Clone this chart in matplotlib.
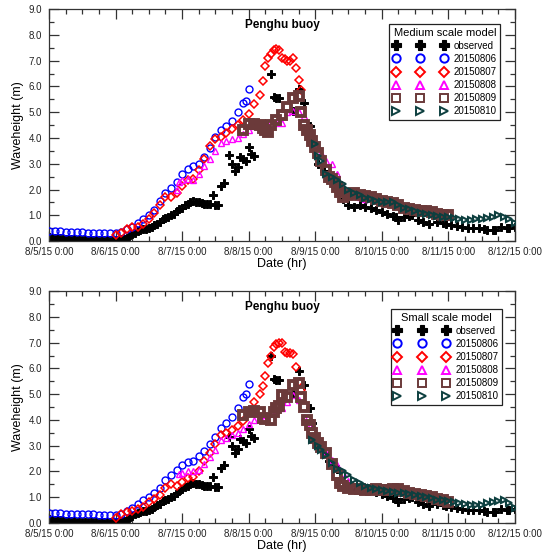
import numpy as np
import matplotlib
matplotlib.use('Agg')
import matplotlib.pyplot as plt
from matplotlib.ticker import MultipleLocator, FormatStrFormatter

plt.rcParams['font.family'] = ['Liberation Sans', 'DejaVu Sans']

# hours since 8/5/15 0:00
day_ticks = [0, 24, 48, 72, 96, 120, 144, 168]
day_labels = ['8/5/15 0:00', '8/6/15 0:00', '8/7/15 0:00', '8/8/15 0:00',
              '8/9/15 0:00', '8/10/15 0:00', '8/11/15 0:00', '8/12/15 0:00']

# observed buoy data (same in both panels)
obs_h = [0, 1, 2, 3, 4, 5, 6, 7, 8, 9, 10, 11, 12, 13, 14, 15, 16, 17, 18, 19,
         20, 21, 22, 23, 24, 25, 26, 27, 28, 29, 30, 31, 32, 33, 34, 35, 36, 37, 38, 39,
         40, 41, 42, 43, 44, 45, 46, 47, 48, 49, 50, 51, 52, 53, 54, 55, 56, 57, 58, 59,
         60, 61, 62, 63, 65, 66, 67, 68, 69, 70, 71, 72, 73, 74, 80, 81, 82, 83, 88, 90,
         92, 94, 95, 97, 99, 101, 103, 104, 106, 108, 110, 112, 114, 116, 118, 120, 122, 124, 125, 126,
         128, 130, 131, 133, 135, 137, 140, 142, 143, 145, 147, 149, 151, 153, 155, 157, 158, 160, 161, 163,
         165, 166, 168]
obs_v = [0.15, 0.13, 0.12, 0.11, 0.10, 0.09, 0.08, 0.07, 0.06, 0.06, 0.05, 0.05, 0.05, 0.04, 0.04, 0.03, 0.03, 0.03, 0.03, 0.04,
         0.04, 0.05, 0.05, 0.05, 0.05, 0.05, 0.06, 0.08, 0.12, 0.20, 0.28, 0.33, 0.38, 0.42, 0.45, 0.48, 0.52, 0.56, 0.62, 0.68,
         0.75, 0.85, 0.90, 0.93, 1.00, 1.06, 1.15, 1.25, 1.30, 1.38, 1.45, 1.50, 1.55, 1.52, 1.50, 1.47, 1.45, 1.44, 1.42, 1.77,
         1.38, 1.40, 2.15, 2.24, 3.35, 3.00, 2.73, 2.86, 3.25, 3.18, 3.10, 3.66, 3.38, 3.30, 6.50, 5.60, 5.55, 5.54, 5.05, 5.90,
         5.37, 4.47, 3.90, 3.00, 2.70, 2.40, 2.20, 2.10, 1.64, 1.38, 1.31, 1.38, 1.31, 1.28, 1.20, 1.12, 1.06, 0.98, 0.95, 0.80,
         0.93, 0.98, 1.00, 0.80, 0.72, 0.67, 0.73, 0.70, 0.67, 0.62, 0.57, 0.55, 0.50, 0.52, 0.50, 0.45, 0.41, 0.42, 0.41, 0.54,
         0.50, 0.52, 0.54]

# ---- medium scale model ----
med_06_h = [0, 2, 4, 6, 8, 10, 12, 14, 16, 18, 20, 22, 24, 26, 28, 30, 32, 34, 36, 38,
            40, 42, 44, 46, 48, 50, 52, 54, 56, 58, 60, 62, 64, 66, 68, 70, 71, 72]
med_06_v = [0.40, 0.38, 0.37, 0.36, 0.35, 0.35, 0.34, 0.33, 0.33, 0.32, 0.31, 0.30, 0.30, 0.35, 0.45, 0.55, 0.70, 0.85, 1.00, 1.20,
            1.55, 1.85, 2.05, 2.30, 2.60, 2.80, 2.90, 3.00, 3.25, 3.60, 4.05, 4.30, 4.45, 4.65, 5.00, 5.37, 5.44, 5.90]
med_07_h = [24, 26, 28, 30, 32, 34, 36, 38, 40, 42, 44, 46, 48, 50, 52, 54, 56, 58, 60, 62,
            64, 66, 68, 70, 72, 74, 76, 77, 78, 79, 80, 81, 82, 83, 84, 85, 86, 87, 88, 89, 90, 91]
med_07_v = [0.25, 0.30, 0.45, 0.55, 0.55, 0.65, 0.85, 1.10, 1.40, 1.70, 1.70, 1.85, 2.15, 2.35, 2.40, 2.75, 3.20, 3.70, 3.95, 4.05,
            4.20, 4.35, 4.50, 4.70, 4.95, 5.30, 5.65, 6.20, 6.80, 7.10, 7.25, 7.40, 7.47, 7.41, 7.10, 7.06, 7.00, 6.97, 7.10, 6.70, 6.24, 5.86]
med_08_h = [46, 47, 48, 50, 52, 54, 56, 58, 60, 62, 64, 66, 68, 70, 72, 74, 76, 78, 80, 82,
            84, 86, 88, 90, 92, 94, 96, 98, 100, 102, 104, 106, 108, 110, 112, 114]
med_08_v = [2.00, 2.30, 2.35, 2.40, 2.35, 2.60, 2.90, 3.20, 3.50, 3.80, 3.90, 3.95, 4.00, 4.15, 4.30, 4.45, 4.45, 4.50, 4.60, 4.60,
            4.60, 5.00, 5.05, 5.00, 4.85, 4.20, 3.75, 3.40, 3.10, 3.00, 2.60, 2.10, 1.80, 1.75, 1.70, 1.65]
med_09_h = [70, 72, 74, 76, 77, 78, 79, 80, 82, 84, 86, 88, 90, 91, 92, 93, 94, 95, 96, 97,
            98, 100, 101, 102, 103, 104, 105, 106, 108, 110, 112, 114, 116, 118, 120, 122, 124, 126, 128, 130,
            132, 134, 136, 138, 140, 142, 144]
med_09_v = [4.30, 4.54, 4.55, 4.50, 4.40, 4.30, 4.25, 4.50, 4.70, 4.90, 5.20, 5.57, 5.63, 5.00, 4.50, 4.30, 4.10, 3.90, 3.65, 3.40,
            3.10, 2.75, 2.50, 2.40, 2.28, 2.10, 1.90, 1.70, 1.80, 1.85, 1.78, 1.75, 1.70, 1.62, 1.57, 1.52, 1.47, 1.40, 1.30, 1.25,
            1.20, 1.18, 1.16, 1.12, 1.06, 1.02, 1.00]
med_10_h = [96, 97, 98, 100, 102, 104, 106, 108, 110, 112, 114, 116, 118, 120, 122, 124, 126, 128, 130, 132,
            134, 136, 138, 140, 142, 144, 146, 148, 150, 152, 154, 156, 158, 160, 162, 164, 166, 168]
med_10_v = [3.76, 3.30, 3.10, 2.60, 2.50, 2.35, 2.20, 2.00, 1.85, 1.77, 1.68, 1.62, 1.57, 1.53, 1.50, 1.50, 1.40, 1.30, 1.25, 1.15,
            1.10, 1.05, 1.00, 0.98, 0.95, 0.92, 0.88, 0.85, 0.83, 0.82, 0.84, 0.86, 0.90, 0.94, 1.00, 0.95, 0.85, 0.70]

# ---- small scale model ----
sml_06_h = [0, 2, 4, 6, 8, 10, 12, 14, 16, 18, 20, 22, 24, 26, 28, 30, 32, 34, 36, 38,
            40, 42, 44, 46, 48, 50, 52, 54, 56, 58, 60, 62, 64, 66, 68, 70, 71, 72]
sml_06_v = [0.40, 0.38, 0.37, 0.36, 0.35, 0.35, 0.34, 0.33, 0.33, 0.32, 0.31, 0.30, 0.30, 0.35, 0.45, 0.60, 0.75, 0.88, 1.00, 1.15,
            1.35, 1.65, 1.85, 2.05, 2.25, 2.35, 2.40, 2.60, 2.80, 3.05, 3.35, 3.70, 3.90, 4.10, 4.45, 4.90, 5.00, 5.38]
sml_07_h = [24, 26, 28, 30, 32, 34, 36, 38, 40, 42, 44, 46, 48, 50, 52, 54, 56, 58, 60, 62,
            64, 66, 68, 70, 72, 74, 76, 77, 78, 79, 80, 81, 82, 83, 84, 85, 86, 87, 88, 89, 90, 91]
sml_07_v = [0.20, 0.33, 0.42, 0.48, 0.53, 0.62, 0.80, 0.95, 1.10, 1.36, 1.50, 1.43, 1.60, 1.75, 1.80, 2.00, 2.40, 2.70, 3.05, 3.40,
            3.50, 3.62, 3.75, 3.95, 4.30, 4.70, 5.00, 5.30, 5.70, 6.20, 6.50, 6.83, 6.94, 6.97, 7.00, 6.64, 6.60, 6.58, 6.55, 6.04, 5.48, 5.16]
sml_08_h = [47, 48, 50, 52, 54, 56, 58, 60, 62, 64, 66, 68, 70, 72, 74, 76, 78, 80, 82, 84,
            86, 88, 90, 92, 94, 96, 98, 100, 102, 104, 106, 108, 110, 112]
sml_08_v = [1.90, 1.95, 2.00, 2.00, 2.05, 2.30, 2.55, 2.84, 3.23, 3.30, 3.40, 3.50, 3.65, 3.85, 4.00, 4.10, 4.20, 4.30, 4.40, 4.45,
            4.70, 4.97, 4.77, 4.13, 3.75, 3.23, 2.95, 2.70, 2.45, 2.26, 1.94, 1.62, 1.36, 1.43]
sml_09_h = [70, 72, 74, 76, 77, 78, 80, 81, 82, 83, 84, 86, 88, 90, 91, 92, 93, 94, 95, 96,
            97, 98, 100, 102, 104, 105, 106, 108, 110, 112, 114, 116, 118, 120, 122, 124, 126, 128, 130, 132,
            134, 136, 138, 140, 142, 144]
sml_09_v = [4.20, 4.32, 4.35, 4.30, 4.07, 4.05, 4.00, 4.32, 4.45, 4.54, 4.97, 4.90, 5.35, 5.42, 4.90, 4.52, 4.00, 3.80, 3.49, 3.30,
            3.10, 2.95, 2.72, 2.27, 1.88, 1.56, 1.43, 1.36, 1.32, 1.30, 1.27, 1.27, 1.30, 1.28, 1.27, 1.30, 1.33, 1.25, 1.17, 1.12,
            1.08, 1.04, 1.00, 0.93, 0.88, 0.81]
sml_10_h = [95, 97, 98, 100, 102, 104, 106, 108, 110, 112, 114, 116, 118, 120, 122, 124, 126, 128, 130, 132,
            134, 136, 138, 140, 142, 144, 146, 148, 150, 152, 154, 156, 158, 160, 162, 164, 166, 168]
sml_10_v = [3.23, 2.97, 2.85, 2.65, 2.33, 2.10, 2.00, 1.85, 1.68, 1.55, 1.45, 1.36, 1.30, 1.27, 1.24, 1.20, 1.17, 1.15, 1.12, 1.07,
            1.05, 1.02, 0.97, 0.91, 0.88, 0.85, 0.80, 0.76, 0.73, 0.71, 0.71, 0.71, 0.76, 0.80, 0.85, 0.89, 0.76, 0.60]

series_names = ['observed', '20150806', '20150807', '20150808', '20150809', '20150810']
panels = [
    ('Medium scale model', [med_06_h, med_07_h, med_08_h, med_09_h, med_10_h],
     [med_06_v, med_07_v, med_08_v, med_09_v, med_10_v], [0.5665, 0.969, 0.935]),
    ('Small scale model', [sml_06_h, sml_07_h, sml_08_h, sml_09_h, sml_10_h],
     [sml_06_v, sml_07_v, sml_08_v, sml_09_v, sml_10_v], [0.0594, 0.973, 0.922]),
]

# marker styles: (marker, color, size, edge width, legend size)
styles = [
    ('o', '#0000ff', 5.0, 1.0, 6.0),
    ('D', '#ff0000', 3.6, 1.1, 4.6),
    ('^', '#ff00ff', 5.0, 1.0, 6.0),
    ('s', '#6b3a3a', 5.8, 2.8, 6.2),
    ('>', '#0d3f3f', 5.0, 1.5, 5.6),
]

fig = plt.figure(figsize=(5.43, 5.56), dpi=100)

for title, hs, vs, pos in panels:
    ax = fig.add_axes([0.0902, pos[0], 0.858, 0.417])
    ax.plot(obs_h, obs_v, linestyle='none', marker='P', markersize=6.4,
            color='black', markeredgewidth=0.7, label='observed', zorder=2)
    for (mk, col, ms, mew, _), h, v, name in zip(styles, hs, vs, series_names[1:]):
        ax.plot(h, v, linestyle='none', marker=mk, markersize=ms,
                markerfacecolor='none', markeredgecolor=col, markeredgewidth=mew,
                label=name, zorder=3)

    ax.set_xlim(0, 168)
    ax.set_ylim(0, 9)
    ax.set_xticks(day_ticks)
    ax.set_xticklabels(day_labels)
    ax.xaxis.set_minor_locator(MultipleLocator(6))
    ax.yaxis.set_major_locator(MultipleLocator(1))
    ax.yaxis.set_minor_locator(MultipleLocator(0.5))
    ax.yaxis.set_major_formatter(FormatStrFormatter('%.1f'))
    ax.tick_params(which='both', direction='in', top=True, right=True,
                   labelsize=7, width=0.9, colors='#333333', labelcolor='#222222')
    ax.tick_params(axis='x', pad=4)
    ax.tick_params(axis='y', pad=5)
    ax.tick_params(which='major', length=7)
    ax.tick_params(which='minor', length=3.5)
    for sp in ax.spines.values():
        sp.set_linewidth(0.9)
        sp.set_color('#333333')
    ax.set_xlabel('Date (hr)', fontsize=9, labelpad=1)
    ax.set_ylabel('Waveheight (m)', fontsize=9, labelpad=3)
    ax.text(0.5, 0.93, 'Penghu buoy', transform=ax.transAxes, ha='center',
            va='center', fontsize=8.5, fontweight='bold')

    leg = ax.legend(loc='upper right', bbox_to_anchor=(pos[1], pos[2]),
                    title=title, numpoints=3, handlelength=5.6, handletextpad=0.7,
                    fontsize=7, title_fontsize=8, frameon=True, fancybox=False,
                    borderpad=0.35, labelspacing=0.32, borderaxespad=0)
    leg.get_frame().set_edgecolor('#222222')
    leg.get_frame().set_linewidth(0.9)
    leg.get_frame().set_alpha(1)
    hds = leg.legend_handles
    hds[0].set_markersize(7.0)
    hds[0].set_markeredgewidth(0.8)
    for hd, st in zip(hds[1:], styles):
        hd.set_markersize(st[4])
        hd.set_markeredgewidth(1.4)

fig.savefig('out.png', dpi=100)
